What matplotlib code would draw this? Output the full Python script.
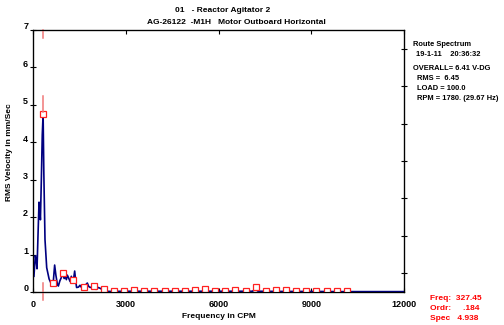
import numpy as np
import matplotlib
matplotlib.use("Agg")
import matplotlib.pyplot as plt
from matplotlib.transforms import ScaledTranslation

plt.rcParams['font.family'] = ['Liberation Sans', 'DejaVu Sans']
plt.rcParams['font.weight'] = 'bold'
plt.rcParams['axes.labelweight'] = 'bold'
plt.rcParams['font.size'] = 6.5

# spectrum trace, CPM vs mm/sec
freq = [30, 75, 105, 130, 165, 195, 215, 240, 270, 300, 327, 350, 388, 443,
        520, 600, 655, 700, 740, 790, 820, 870, 950, 982, 1010, 1040, 1080,
        1110, 1150, 1200, 1240, 1270, 1310, 1348, 1380, 1410, 1470, 1520,
        1570, 1637, 1690, 1757, 1800, 1850, 1920, 1965, 2040, 2113, 2170,
        2230, 2292, 2340, 2500, 3000, 4000, 5000, 6000, 7100, 7190, 7280,
        8000, 9000, 10000, 11000, 12000]
amp = [0.42, 0.97, 0.85, 0.62, 1.6, 2.4, 2.2, 1.93, 3.0, 4.2, 4.75, 3.2, 1.4,
       0.65, 0.35, 0.2, 0.26, 0.72, 0.45, 0.2, 0.16, 0.3, 0.45, 0.49, 0.36,
       0.42, 0.33, 0.45, 0.38, 0.28, 0.42, 0.32, 0.33, 0.56, 0.3, 0.12, 0.13,
       0.18, 0.12, 0.13, 0.18, 0.24, 0.15, 0.12, 0.14, 0.15, 0.07, 0.12, 0.1,
       0.07, 0.08, 0.02, 0.015, 0.02, 0.02, 0.02, 0.02, 0.02, 0.08, 0.02,
       0.015, 0.015, 0.01, 0.01, 0.01]

# harmonic markers of running speed
run_cpm = 327.45
orders = np.arange(1, 32)
order_amp = [4.75, 0.24, 0.50, 0.31, 0.13, 0.16, 0.08, 0.04, 0.04, 0.06,
             0.04, 0.03, 0.03, 0.03, 0.03, 0.045, 0.07, 0.03, 0.03, 0.045,
             0.03, 0.14, 0.03, 0.045, 0.05, 0.03, 0.03, 0.03, 0.03, 0.03,
             0.03]

x_ticks = [0, 3000, 6000, 9000, 12000]
y_ticks = [0, 1, 2, 3, 4, 5, 6, 7]

fig = plt.figure(figsize=(5.04, 3.25), dpi=100)
ax = fig.add_axes([33/504, 1 - 292/325, 371/504, 262/325])

ax.plot(freq, amp, color='#000080', lw=1.2, zorder=3)
ax.plot(orders * run_cpm, order_amp, ls='none', marker='s', ms=4.2,
        mfc='white', mec='#ff2020', mew=0.9, zorder=4)

# cursor at 1x
cur = dict(color='#f07878', lw=1.1, clip_on=False, zorder=5)
ax.plot([run_cpm, run_cpm], [7.0, 6.78], **cur)
ax.plot([run_cpm, run_cpm], [5.24, 4.82], **cur)
ax.plot([run_cpm, run_cpm], [0.23, -0.22], **cur)

ax.set_xlim(0, 12000)
ax.set_ylim(0, 7)
ax.set_xticks(x_ticks)
ax.set_xticklabels([str(v) for v in x_ticks])
ax.set_yticks(y_ticks)
ax.set_yticklabels([str(v) for v in y_ticks])
ax.tick_params(axis='x', direction='in', length=3, width=0.8, top=True, pad=6)
ax.tick_params(axis='y', direction='inout', length=5, width=0.8, pad=1)
for lab in ax.get_yticklabels():
    lab.set_transform(lab.get_transform() + ScaledTranslation(0, 3/72, fig.dpi_scale_trans))
for sp in ax.spines.values():
    sp.set_linewidth(0.9)

ax2 = ax.twinx()
ax2.set_ylim(0, 7)
ax2.set_yticks(np.arange(0.5, 7, 1.0))
ax2.tick_params(direction='inout', length=5, width=0.8, labelright=False)

ax.set_xlabel('Frequency in CPM', labelpad=3, fontsize=6)
fig.text(10/504, 1 - 152/325, 'RMS Velocity in mm/Sec', rotation=90,
         ha='center', va='center', fontsize=6)

fig.text(223/504, 1 - 10/325, '01   - Reactor Agitator 2', ha='center',
         va='center', fontsize=6)
fig.text(236/504, 1 - 22/325, 'AG-26122  -M1H   Motor Outboard Horizontal',
         ha='center', va='center', fontsize=6)

info = [(413, 44, 'Route Spectrum'),
        (416, 55, '19-1-11    20:36:32'),
        (413, 68, 'OVERALL= 6.41 V-DG'),
        (417, 79, 'RMS =  6.45'),
        (417, 89, 'LOAD = 100.0'),
        (417, 99, 'RPM = 1780. (29.67 Hz)')]
for x, y, s in info:
    fig.text(x/504, 1 - y/325, s, ha='left', va='center', fontsize=5.4)

cursor_info = [(430, 298, 'Freq:  327.45'),
               (430, 308, 'Ordr:     .184'),
               (430, 319, 'Spec   4.938')]
for x, y, s in cursor_info:
    fig.text(x/504, 1 - y/325, s, ha='left', va='center', color='#ff0000',
             fontsize=6)

fig.savefig('out.png', dpi=100)
